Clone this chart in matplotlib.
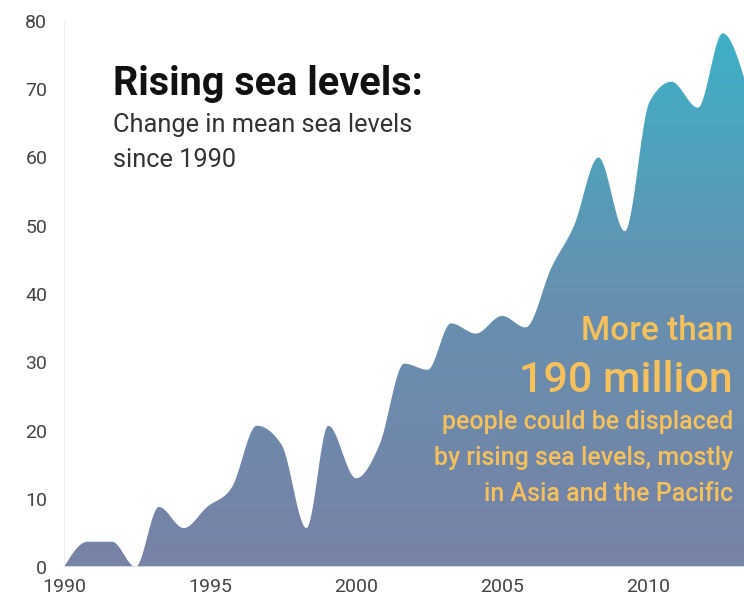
import numpy as np
import matplotlib
matplotlib.use('Agg')
import matplotlib.pyplot as plt
from matplotlib.colors import LinearSegmentedColormap

# change in mean sea level (mm) since 1990
years = [1990.0, 1990.8, 1991.65, 1992.45, 1993.25, 1994.1, 1994.9, 1995.75,
         1996.6, 1997.45, 1998.3, 1999.05, 2000.0, 2000.8, 2001.65, 2002.45,
         2003.25, 2004.1, 2005.0, 2005.8, 2006.7, 2007.45, 2008.3, 2009.2,
         2010.05, 2010.8, 2011.7, 2012.55, 2013.4]
levels = [0.0, 3.7, 3.7, 0.0, 8.8, 5.7, 8.8, 11.7,
          20.7, 17.9, 5.7, 20.7, 13.0, 17.9, 29.8, 28.9,
          35.7, 34.2, 36.8, 35.1, 44.0, 49.9, 60.0, 49.2,
          68.2, 71.1, 67.3, 78.2, 70.0]

xticks = [1990, 1995, 2000, 2005, 2010]
yticks = [0, 10, 20, 30, 40, 50, 60, 70, 80]

title = 'Rising sea levels:'
subtitle = ['Change in mean sea levels', 'since 1990']
note_top = 'More than'
note_big = '190 million'
note_rest = ['people could be displaced', 'by rising sea levels, mostly',
             'in Asia and the Pacific']

plt.rcParams['font.family'] = ['Roboto', 'DejaVu Sans']

YELLOW = '#f6c15a'


def monotone(x, y, n=30):
    # monotone cubic (Steffen) so the curve never overshoots the points
    x = np.asarray(x, float)
    y = np.asarray(y, float)
    h = np.diff(x)
    s = np.diff(y) / h
    m = np.zeros_like(y)
    for i in range(1, len(x) - 1):
        p = (s[i - 1] * h[i] + s[i] * h[i - 1]) / (h[i - 1] + h[i])
        m[i] = (np.sign(s[i - 1]) + np.sign(s[i])) * min(abs(s[i - 1]), abs(s[i]), 0.5 * abs(p))
    m[0] = (3 * s[0] - m[1]) / 2
    m[-1] = (3 * s[-1] - m[-2]) / 2
    xs, ys = [], []
    for i in range(len(x) - 1):
        t = np.linspace(0, 1, n, endpoint=False)
        h00 = 2 * t**3 - 3 * t**2 + 1
        h10 = t**3 - 2 * t**2 + t
        h01 = -2 * t**3 + 3 * t**2
        h11 = t**3 - t**2
        xs.append(x[i] + t * h[i])
        ys.append(h00 * y[i] + h10 * h[i] * m[i] + h01 * y[i + 1] + h11 * h[i] * m[i + 1])
    xs.append([x[-1]])
    ys.append([y[-1]])
    return np.concatenate(xs), np.concatenate(ys)


fig = plt.figure(figsize=(7.44, 5.98), dpi=100)
ax = fig.add_axes([64 / 744, 31 / 598, 680 / 744, 546 / 598])

xs, ys = monotone(years, levels)
ys = np.clip(ys, 0, None)
poly = ax.fill_between(xs, 0, ys, color='none', lw=0)

x0, x1 = 1990, 2013.28
cmap = LinearSegmentedColormap.from_list('sea', ['#7782a6', '#6690b0', '#3bb2c6'])
grad = np.linspace(0, 1, 256).reshape(-1, 1)
img = ax.imshow(grad, cmap=cmap, origin='lower', aspect='auto',
                extent=[x0, x1 + 1, 0, 80], zorder=1)
img.set_clip_path(poly.get_paths()[0], transform=ax.transData)

ax.set_xlim(x0, x1)
ax.set_ylim(0, 80)
ax.set_xticks(xticks)
ax.set_yticks(yticks)
ax.tick_params(length=0, labelsize=14, colors='#444444')
ax.tick_params(axis='y', pad=12)
ax.tick_params(axis='x', pad=8)
for side in ['top', 'right', 'bottom']:
    ax.spines[side].set_visible(False)
ax.spines['left'].set_color('#eeeeee')
ax.axhline(0, color='#e4e8f0', lw=1.2, zorder=2)

# headings
fig.text(113 / 744, 1 - 95 / 598, title, fontsize=28.5, fontweight='bold',
         color='#111111', va='baseline')
for i, line in enumerate(subtitle):
    fig.text(113 / 744, 1 - (132 + 35 * i) / 598, line, fontsize=18.3,
             color='#333333', va='baseline')

# callout
fig.text(733 / 744, 1 - 340 / 598, note_top, fontsize=24, color=YELLOW,
         ha='right', va='baseline', fontweight='medium')
fig.text(733 / 744, 1 - 392 / 598, note_big, fontsize=31, color=YELLOW,
         ha='right', va='baseline', fontweight='medium')
for i, line in enumerate(note_rest):
    fig.text(733 / 744, 1 - (429 + 36 * i) / 598, line, fontsize=18,
             color=YELLOW, ha='right', va='baseline', fontweight='medium')

fig.savefig('out.png', dpi=100)
